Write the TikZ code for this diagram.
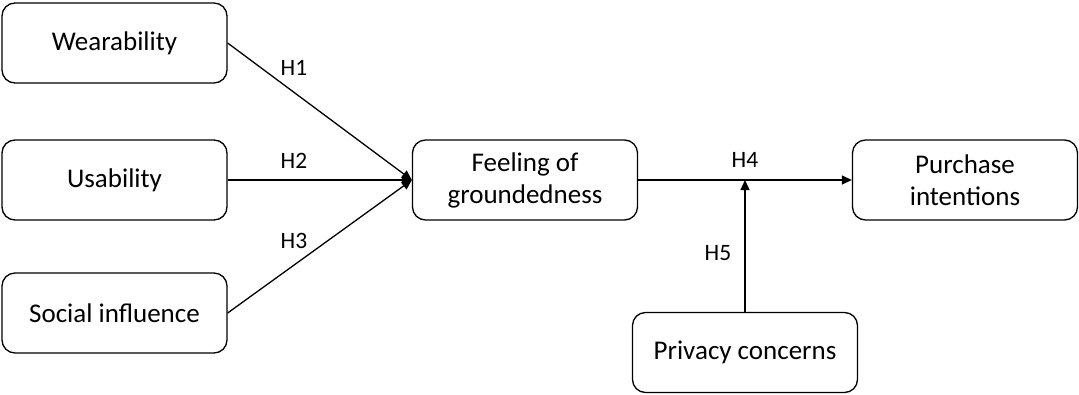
\documentclass[tikz,border=0pt]{standalone}
\usepackage{fontspec}
\setmainfont{Carlito}
\usetikzlibrary{arrows.meta}
\definecolor{hypink}{HTML}{000000}
\tikzset{
  cons/.style={draw=hypink, line width=1.3pt, rounded corners=13pt, align=center, font=\fontsize{27}{32}\selectfont, minimum width=225pt, minimum height=80pt, inner sep=2pt},
  path/.style={-{Triangle[length=10pt, width=9pt]}, line width=1.3pt, color=hypink},
  hyp/.style={font=\fontsize{23.5}{27}\selectfont, color=hypink},
}
\begin{document}
\begin{tikzpicture}[x=1pt, y=-1pt]
      \useasboundingbox (0,0) rectangle (1079,394);
      % constructs
      \node[cons] (wear) at (114.5,43) {Wearability};
      \node[cons] (usab) at (114.5,180) {Usability};
      \node[cons] (soc) at (114.5,313) {Social influence};
      \node[cons] (feel) at (525,180) {Feeling of\\groundedness};
      \node[cons] (purch) at (965,180) {Purchase\\intentions};
      \node[cons] (priv) at (745,352.5) {Privacy concerns};
      \coordinate (mod) at (priv.north |- feel.east);
      % paths
      \draw[path] (wear.east) -- (feel.west);
      \draw[path] (usab.east) -- (feel.west);
      \draw[path] (soc.east) -- (feel.west);
      \draw[path] (feel.east) -- (purch.west);
      \draw[path] (priv.north) -- (mod);
      % hypotheses
      \node[hyp] (h1) at (294,68) {H1};
      \node[hyp] (h2) at (294,161) {H2};
      \node[hyp] (h3) at (294,241) {H3};
      \node[hyp] (h4) at (745,160) {H4};
      \node[hyp] (h5) at (718,253) {H5};
    \end{tikzpicture}
\end{document}
